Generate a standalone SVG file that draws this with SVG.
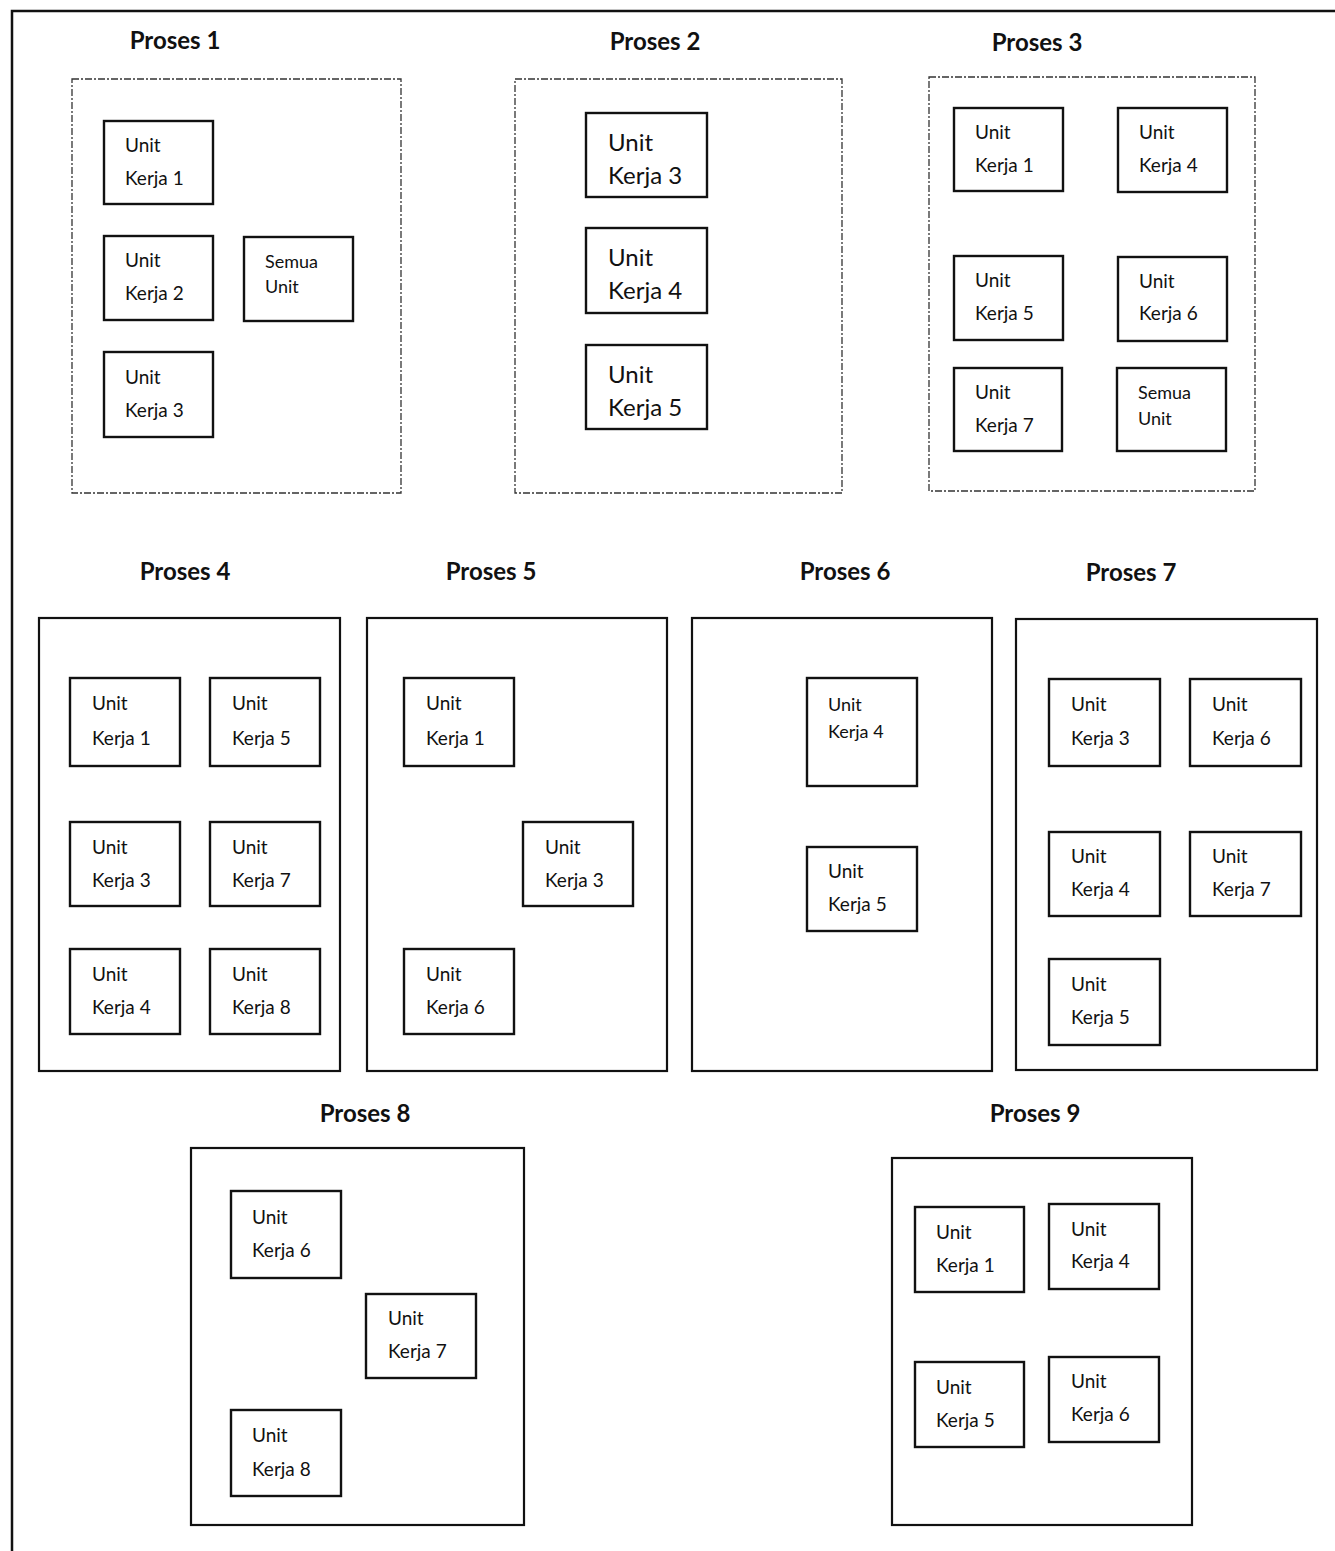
<svg xmlns="http://www.w3.org/2000/svg" width="1335" height="1551" viewBox="0 0 1335 1551">
<style>
.bg{fill:#fff}
.frame{stroke:#111;stroke-width:2.5;fill:none}
.dash{fill:#fff;stroke:#333;stroke-width:1.3;stroke-dasharray:7 2 2 2}
.cont{fill:#fff;stroke:#111;stroke-width:2.2}
.unit{fill:#fff;stroke:#111;stroke-width:2.4}
.title{font-family:Lato,"Liberation Sans",sans-serif;font-weight:bold;font-size:24px;fill:#111;text-anchor:middle}
.t{font-family:Lato,"Liberation Sans",sans-serif;font-size:19px;fill:#111}
.tb{font-family:Lato,"Liberation Sans",sans-serif;font-size:24px;fill:#111}
.ts{font-family:Lato,"Liberation Sans",sans-serif;font-size:18px;fill:#111}
</style>
<rect class="bg" x="0" y="0" width="1335" height="1551"/>
<g id="frame">
<path class="frame" d="M12,1551 V11 H1335"/>
</g>
<g id="connectors"></g>

<g id="proses1">
<text class="title" x="175" y="49">Proses 1</text>
<rect class="dash" x="72" y="79" width="329" height="414"/>
<g id="p1-uk1"><rect class="unit" x="104" y="121" width="109" height="83"/><text class="t" x="125" y="152">Unit</text><text class="t" x="125" y="185">Kerja 1</text></g>
<g id="p1-uk2"><rect class="unit" x="104" y="236" width="109" height="84"/><text class="t" x="125" y="267">Unit</text><text class="t" x="125" y="300">Kerja 2</text></g>
<g id="p1-semua"><rect class="unit" x="244" y="237" width="109" height="84"/><text class="ts" x="265" y="268">Semua</text><text class="ts" x="265" y="293">Unit</text></g>
<g id="p1-uk3"><rect class="unit" x="104" y="352" width="109" height="85"/><text class="t" x="125" y="384">Unit</text><text class="t" x="125" y="417">Kerja 3</text></g>
</g>

<g id="proses2">
<text class="title" x="655" y="50">Proses 2</text>
<rect class="dash" x="515" y="79" width="327" height="414"/>
<g id="p2-uk3"><rect class="unit" x="586" y="113" width="121" height="84"/><text class="tb" x="608" y="151">Unit</text><text class="tb" x="608" y="184">Kerja 3</text></g>
<g id="p2-uk4"><rect class="unit" x="586" y="228" width="121" height="85"/><text class="tb" x="608" y="266">Unit</text><text class="tb" x="608" y="299">Kerja 4</text></g>
<g id="p2-uk5"><rect class="unit" x="586" y="345" width="121" height="84"/><text class="tb" x="608" y="383">Unit</text><text class="tb" x="608" y="416">Kerja 5</text></g>
</g>

<g id="proses3">
<text class="title" x="1037" y="51">Proses 3</text>
<rect class="dash" x="929" y="77" width="326" height="414"/>
<g id="p3-uk1"><rect class="unit" x="954" y="108" width="109" height="83"/><text class="t" x="975" y="139">Unit</text><text class="t" x="975" y="172">Kerja 1</text></g>
<g id="p3-uk4"><rect class="unit" x="1118" y="108" width="109" height="84"/><text class="t" x="1139" y="139">Unit</text><text class="t" x="1139" y="172">Kerja 4</text></g>
<g id="p3-uk5"><rect class="unit" x="954" y="256" width="109" height="84"/><text class="t" x="975" y="287">Unit</text><text class="t" x="975" y="320">Kerja 5</text></g>
<g id="p3-uk6"><rect class="unit" x="1118" y="257" width="109" height="84"/><text class="t" x="1139" y="288">Unit</text><text class="t" x="1139" y="320">Kerja 6</text></g>
<g id="p3-uk7"><rect class="unit" x="954" y="368" width="108" height="83"/><text class="t" x="975" y="399">Unit</text><text class="t" x="975" y="432">Kerja 7</text></g>
<g id="p3-semua"><rect class="unit" x="1117" y="368" width="109" height="83"/><text class="ts" x="1138" y="399">Semua</text><text class="ts" x="1138" y="425">Unit</text></g>
</g>

<g id="proses4">
<text class="title" x="185" y="580">Proses 4</text>
<rect class="cont" x="39" y="618" width="301" height="453"/>
<g id="p4-uk1"><rect class="unit" x="70" y="678" width="110" height="88"/><text class="t" x="92" y="710">Unit</text><text class="t" x="92" y="745">Kerja 1</text></g>
<g id="p4-uk5"><rect class="unit" x="210" y="678" width="110" height="88"/><text class="t" x="232" y="710">Unit</text><text class="t" x="232" y="745">Kerja 5</text></g>
<g id="p4-uk3"><rect class="unit" x="70" y="822" width="110" height="84"/><text class="t" x="92" y="854">Unit</text><text class="t" x="92" y="887">Kerja 3</text></g>
<g id="p4-uk7"><rect class="unit" x="210" y="822" width="110" height="84"/><text class="t" x="232" y="854">Unit</text><text class="t" x="232" y="887">Kerja 7</text></g>
<g id="p4-uk4"><rect class="unit" x="70" y="949" width="110" height="85"/><text class="t" x="92" y="981">Unit</text><text class="t" x="92" y="1014">Kerja 4</text></g>
<g id="p4-uk8"><rect class="unit" x="210" y="949" width="110" height="85"/><text class="t" x="232" y="981">Unit</text><text class="t" x="232" y="1014">Kerja 8</text></g>
</g>

<g id="proses5">
<text class="title" x="491" y="580">Proses 5</text>
<rect class="cont" x="367" y="618" width="300" height="453"/>
<g id="p5-uk1"><rect class="unit" x="404" y="678" width="110" height="88"/><text class="t" x="426" y="710">Unit</text><text class="t" x="426" y="745">Kerja 1</text></g>
<g id="p5-uk3"><rect class="unit" x="523" y="822" width="110" height="84"/><text class="t" x="545" y="854">Unit</text><text class="t" x="545" y="887">Kerja 3</text></g>
<g id="p5-uk6"><rect class="unit" x="404" y="949" width="110" height="85"/><text class="t" x="426" y="981">Unit</text><text class="t" x="426" y="1014">Kerja 6</text></g>
</g>

<g id="proses6">
<text class="title" x="845" y="580">Proses 6</text>
<rect class="cont" x="692" y="618" width="300" height="453"/>
<g id="p6-uk4"><rect class="unit" x="807" y="678" width="110" height="108"/><text class="ts" x="828" y="711">Unit</text><text class="ts" x="828" y="738">Kerja 4</text></g>
<g id="p6-uk5"><rect class="unit" x="807" y="847" width="110" height="84"/><text class="t" x="828" y="878">Unit</text><text class="t" x="828" y="911">Kerja 5</text></g>
</g>

<g id="proses7">
<text class="title" x="1131" y="581">Proses 7</text>
<rect class="cont" x="1016" y="619" width="301" height="451"/>
<g id="p7-uk3"><rect class="unit" x="1049" y="679" width="111" height="87"/><text class="t" x="1071" y="711">Unit</text><text class="t" x="1071" y="745">Kerja 3</text></g>
<g id="p7-uk6"><rect class="unit" x="1190" y="679" width="111" height="87"/><text class="t" x="1212" y="711">Unit</text><text class="t" x="1212" y="745">Kerja 6</text></g>
<g id="p7-uk4"><rect class="unit" x="1049" y="832" width="111" height="84"/><text class="t" x="1071" y="863">Unit</text><text class="t" x="1071" y="896">Kerja 4</text></g>
<g id="p7-uk7"><rect class="unit" x="1190" y="832" width="111" height="84"/><text class="t" x="1212" y="863">Unit</text><text class="t" x="1212" y="896">Kerja 7</text></g>
<g id="p7-uk5"><rect class="unit" x="1049" y="959" width="111" height="86"/><text class="t" x="1071" y="991">Unit</text><text class="t" x="1071" y="1024">Kerja 5</text></g>
</g>

<g id="proses8">
<text class="title" x="365" y="1122">Proses 8</text>
<rect class="cont" x="191" y="1148" width="333" height="377"/>
<g id="p8-uk6"><rect class="unit" x="231" y="1191" width="110" height="87"/><text class="t" x="252" y="1224">Unit</text><text class="t" x="252" y="1257">Kerja 6</text></g>
<g id="p8-uk7"><rect class="unit" x="366" y="1294" width="110" height="84"/><text class="t" x="388" y="1325">Unit</text><text class="t" x="388" y="1358">Kerja 7</text></g>
<g id="p8-uk8"><rect class="unit" x="231" y="1410" width="110" height="86"/><text class="t" x="252" y="1442">Unit</text><text class="t" x="252" y="1476">Kerja 8</text></g>
</g>

<g id="proses9">
<text class="title" x="1035" y="1122">Proses 9</text>
<rect class="cont" x="892" y="1158" width="300" height="367"/>
<g id="p9-uk1"><rect class="unit" x="915" y="1207" width="109" height="85"/><text class="t" x="936" y="1239">Unit</text><text class="t" x="936" y="1272">Kerja 1</text></g>
<g id="p9-uk4"><rect class="unit" x="1049" y="1204" width="110" height="85"/><text class="t" x="1071" y="1236">Unit</text><text class="t" x="1071" y="1268">Kerja 4</text></g>
<g id="p9-uk5"><rect class="unit" x="915" y="1362" width="109" height="85"/><text class="t" x="936" y="1394">Unit</text><text class="t" x="936" y="1427">Kerja 5</text></g>
<g id="p9-uk6"><rect class="unit" x="1049" y="1357" width="110" height="85"/><text class="t" x="1071" y="1388">Unit</text><text class="t" x="1071" y="1421">Kerja 6</text></g>
</g>
</svg>
